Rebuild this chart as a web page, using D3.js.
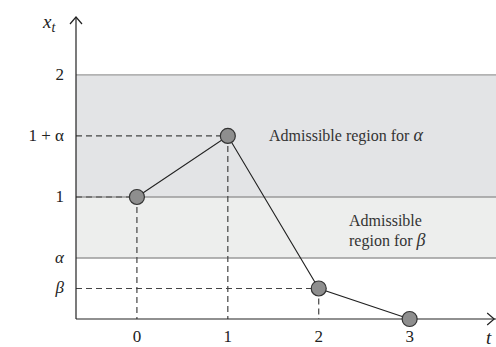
<!DOCTYPE html>
<html>
<head>
<meta charset="utf-8">
<script src="https://cdn.jsdelivr.net/npm/d3@7"></script>
<style>
  body { margin: 0; background: #fff; }
  svg text { font-family: "Liberation Serif", "Times New Roman", Times, "DejaVu Serif", "Noto Serif", serif; }
</style>
</head>
<body>
<div id="chart"></div>
<script>
const w = 496;
const h = 347;

// values (alpha = 0.5, beta = 0.25)
const times = [0, 1, 2, 3];
const xs = [1, 1.5, 0.25, 0];
const yTickVals = [2, 1.5, 1, 0.5, 0.25];
const yTickLabels = ["2", "1 + α", "1", "α", "β"];
const bands = [
  { lo: 1, hi: 2, color: "#e3e4e6" },
  { lo: 0.5, hi: 1, color: "#edeeed" }
];
const bandLines = [2, 1, 0.5];

const x = d3.scaleLinear().domain([-0.67, 3.95]).range([76, 496]);
const y = d3.scaleLinear().domain([0, 2.475]).range([319, 17]);

const svg = d3.select("#chart").append("svg")
  .attr("width", w)
  .attr("height", h);

// shaded regions
svg.selectAll(".band")
  .data(bands)
  .enter()
  .append("rect")
  .attr("x", x(-0.67))
  .attr("width", w - x(-0.67))
  .attr("y", d => y(d.hi))
  .attr("height", d => y(d.lo) - y(d.hi))
  .style("fill", d => d.color);

svg.selectAll(".bandline")
  .data(bandLines)
  .enter()
  .append("line")
  .attr("x1", x(-0.67)).attr("x2", w)
  .attr("y1", d => y(d)).attr("y2", d => y(d))
  .style("stroke", "#9a9a9a")
  .style("stroke-width", 1.3);

// dashed guides
const pts = times.map((t, i) => ({ t: t, v: xs[i] }));
svg.selectAll(".hdash")
  .data(pts.filter(d => d.v > 0))
  .enter()
  .append("line")
  .attr("x1", x(-0.67)).attr("x2", d => x(d.t))
  .attr("y1", d => y(d.v)).attr("y2", d => y(d.v))
  .style("stroke", "#444")
  .style("stroke-width", 1.2)
  .style("stroke-dasharray", "6,4");

svg.selectAll(".vdash")
  .data(pts.filter(d => d.v > 0))
  .enter()
  .append("line")
  .attr("x1", d => x(d.t)).attr("x2", d => x(d.t))
  .attr("y1", d => y(d.v)).attr("y2", y(0))
  .style("stroke", "#444")
  .style("stroke-width", 1.2)
  .style("stroke-dasharray", "6,4");

// axes
svg.append("line")
  .attr("x1", x(-0.67)).attr("x2", x(-0.67))
  .attr("y1", y(0)).attr("y2", y(2.475))
  .style("stroke", "#222").style("stroke-width", 1.2);
svg.append("path")
  .attr("d", `M${x(-0.67) - 6},${y(2.475) + 7} L${x(-0.67)},${y(2.475)} L${x(-0.67) + 6},${y(2.475) + 7}`)
  .style("fill", "none").style("stroke", "#222").style("stroke-width", 1.2);

svg.append("line")
  .attr("x1", x(-0.67)).attr("x2", w)
  .attr("y1", y(0)).attr("y2", y(0))
  .style("stroke", "#222").style("stroke-width", 1.2);
svg.append("path")
  .attr("d", `M${x(3.93) - 7},${y(0) - 6} L${x(3.93)},${y(0)} L${x(3.93) - 7},${y(0) + 6}`)
  .style("fill", "none").style("stroke", "#222").style("stroke-width", 1.2);

// path through points
const line = d3.line().x(d => x(d.t)).y(d => y(d.v));
svg.append("path")
  .datum(pts)
  .attr("d", line)
  .style("fill", "none")
  .style("stroke", "#222")
  .style("stroke-width", 1.1);

svg.selectAll(".pt")
  .data(pts)
  .enter()
  .append("circle")
  .attr("cx", d => x(d.t))
  .attr("cy", d => y(d.v))
  .attr("r", 7.5)
  .style("fill", "#8e8e8e")
  .style("stroke", "#333")
  .style("stroke-width", 1.2);

// tick labels
svg.selectAll(".ylab")
  .data(yTickVals)
  .enter()
  .append("text")
  .attr("x", 64)
  .attr("y", d => y(d) + 5)
  .attr("text-anchor", "end")
  .style("font-size", "17px")
  .style("fill", "#222")
  .style("font-style", (d, i) => (i >= 3 ? "italic" : "normal"))
  .text((d, i) => yTickLabels[i]);

svg.selectAll(".xlab")
  .data(times)
  .enter()
  .append("text")
  .attr("x", d => x(d))
  .attr("y", 342)
  .attr("text-anchor", "middle")
  .style("font-size", "17px")
  .style("fill", "#222")
  .text(d => d);

// axis titles
const xt = svg.append("text").attr("x", 43).attr("y", 28)
  .style("font-size", "19px").style("font-style", "italic").style("fill", "#222");
xt.append("tspan").text("x");
xt.append("tspan").attr("dy", 4).style("font-size", "14px").text("t");

svg.append("text").attr("x", 486).attr("y", 344)
  .style("font-size", "19px").style("font-style", "italic").style("fill", "#222").text("t");

// region labels
const lab1 = svg.append("text").attr("x", 269).attr("y", 141).style("font-size", "16px").style("fill", "#333");
lab1.append("tspan").text("Admissible region for ");
lab1.append("tspan").style("font-style", "italic").style("font-size", "18px").text("α");

svg.append("text").attr("x", 349).attr("y", 226).style("font-size", "16px").style("fill", "#333").text("Admissible");
const lab2 = svg.append("text").attr("x", 349).attr("y", 246).style("font-size", "16px").style("fill", "#333");
lab2.append("tspan").text("region for ");
lab2.append("tspan").style("font-style", "italic").style("font-size", "18px").text("β");
</script>
</body>
</html>
